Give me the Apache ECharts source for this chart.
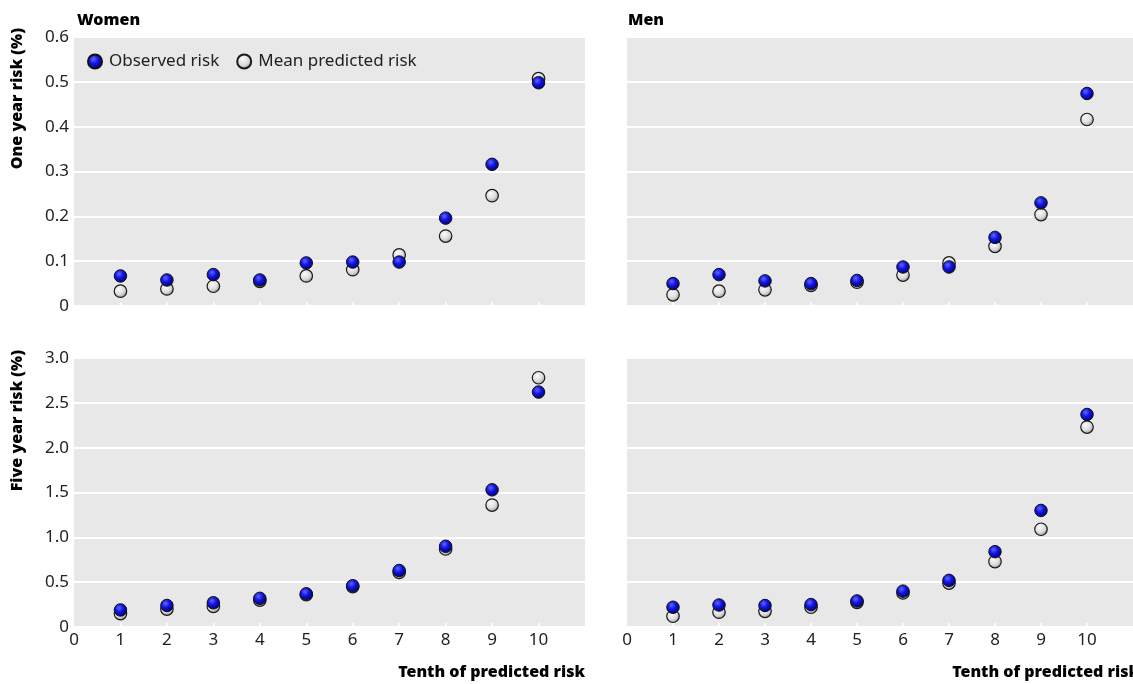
<!DOCTYPE html>
<html><head><meta charset="utf-8">
<script src="https://cdn.jsdelivr.net/npm/echarts@6/dist/echarts.min.js"></script>
<style>html,body{margin:0;padding:0;background:#fff}#c{width:1133px;height:684px}</style>
</head><body><div id="c"></div>
<script>
// ---- data ----
const tenths = [1, 2, 3, 4, 5, 6, 7, 8, 9, 10];
const xTickLabels = [0, 1, 2, 3, 4, 5, 6, 7, 8, 9, 10];
const panelTitles = ['Women', 'Men'];
const rowTitles = ['One year risk (%)', 'Five year risk (%)'];
const xTitle = 'Tenth of predicted risk';
const seriesNames = ['Observed risk', 'Mean predicted risk'];

const womenOneObserved = [0.067, 0.058, 0.070, 0.058, 0.096, 0.098, 0.098, 0.196, 0.316, 0.498];
const womenOnePredicted = [0.033, 0.038, 0.044, 0.055, 0.067, 0.081, 0.114, 0.156, 0.246, 0.507];
const menOneObserved = [0.050, 0.070, 0.056, 0.050, 0.057, 0.087, 0.087, 0.153, 0.230, 0.474];
const menOnePredicted = [0.025, 0.033, 0.036, 0.046, 0.053, 0.069, 0.096, 0.133, 0.204, 0.416];
const womenFiveObserved = [0.19, 0.24, 0.27, 0.32, 0.37, 0.46, 0.63, 0.90, 1.53, 2.62];
const womenFivePredicted = [0.15, 0.20, 0.23, 0.30, 0.36, 0.45, 0.61, 0.87, 1.36, 2.78];
const menFiveObserved = [0.22, 0.245, 0.24, 0.25, 0.29, 0.40, 0.52, 0.84, 1.30, 2.37];
const menFivePredicted = [0.12, 0.165, 0.175, 0.22, 0.275, 0.38, 0.49, 0.73, 1.09, 2.23];

// ---- build ----
const pairs = v => tenths.map((t, i) => [t, v[i]]);
const FONT = 'Noto Sans';
const blueFill = new echarts.graphic.RadialGradient(0.4, 0.35, 0.65, [
  {offset: 0, color: '#5d6bff'}, {offset: 0.45, color: '#1414e6'}, {offset: 1, color: '#000070'}]);
const greyFill = new echarts.graphic.RadialGradient(0.4, 0.35, 0.7, [
  {offset: 0, color: '#fafafa'}, {offset: 0.55, color: '#dcdcdc'}, {offset: 1, color: '#8c8c8c'}]);

const grids = [
  {left: 74, top: 37, width: 511, height: 269},
  {left: 627, top: 37, width: 511, height: 269},
  {left: 74, top: 358, width: 511, height: 269},
  {left: 627, top: 358, width: 511, height: 269}
].map(g => Object.assign({show: true, backgroundColor: '#e8e8e8', borderWidth: 0}, g));

const xAxes = grids.map((g, i) => ({
  type: 'value', gridIndex: i, min: 0, max: 11, interval: 1,
  axisLine: {show: false},
  axisTick: {show: true, inside: true, length: 4, lineStyle: {color: '#ffffff', width: 1.5}, customValues: tenths},
  axisLabel: {show: i >= 2, margin: 5, color: '#222', fontFamily: FONT, fontSize: 17, customValues: xTickLabels},
  splitLine: {show: false}
}));

const yAxes = grids.map((g, i) => {
  const top = i < 2;
  return {
    type: 'value', gridIndex: i, min: 0, max: top ? 0.6 : 3, interval: top ? 0.1 : 0.5,
    axisLine: {show: false}, axisTick: {show: false},
    axisLabel: {show: i % 2 === 0, margin: 5, color: '#222', fontFamily: FONT, fontSize: 17,
      formatter: v => v === 0 ? '0' : v.toFixed(1)},
    splitLine: {show: true, lineStyle: {color: '#ffffff', width: 2}}
  };
});

const panels = [
  [womenOneObserved, womenOnePredicted],
  [menOneObserved, menOnePredicted],
  [womenFiveObserved, womenFivePredicted],
  [menFiveObserved, menFivePredicted]
];
const series = [];
panels.forEach((p, i) => {
  series.push({
    name: seriesNames[1], type: 'scatter', xAxisIndex: i, yAxisIndex: i, data: pairs(p[1]),
    symbolSize: 12.5, z: 2,
    itemStyle: {color: greyFill, borderColor: '#1a1a1a', borderWidth: 1.2, opacity: 1}
  });
  series.push({
    name: seriesNames[0], type: 'scatter', xAxisIndex: i, yAxisIndex: i, data: pairs(p[0]),
    symbolSize: 12.5, z: 3,
    itemStyle: {color: blueFill, borderColor: '#111', borderWidth: 1, opacity: 1}
  });
});

const boldText = (text, x, y, align, rot) => ({
  type: 'text', x: x, y: y, rotation: rot || 0,
  style: {text: text, fill: '#000', font: '900 16px "' + FONT + '"', textAlign: align, textVerticalAlign: 'middle'}
});

const option = {
  animation: false,
  backgroundColor: '#ffffff',
  grid: grids, xAxis: xAxes, yAxis: yAxes, series: series,
  legend: {
    data: [seriesNames[0], seriesNames[1]], left: 82, top: 48, itemWidth: 18, itemHeight: 14, itemGap: 17,
    icon: 'circle',
    textStyle: {color: '#222', fontFamily: FONT, fontSize: 17}
  },
  graphic: [
    boldText(panelTitles[0], 77, 20, 'left'),
    boldText(panelTitles[1], 628, 20, 'left'),
    boldText(rowTitles[0], 17, 28, 'right', Math.PI / 2),
    boldText(rowTitles[1], 17, 350, 'right', Math.PI / 2),
    boldText(xTitle, 585, 672, 'right'),
    boldText(xTitle, 1139, 672, 'right')
  ]
};
echarts.init(document.getElementById('c'), null, {renderer: 'canvas'}).setOption(option);
</script></body></html>
